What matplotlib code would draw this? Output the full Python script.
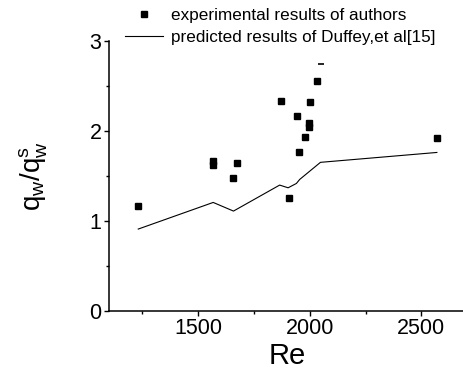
import matplotlib
matplotlib.use("Agg")
import matplotlib.pyplot as plt
from matplotlib.ticker import MultipleLocator

plt.rcParams['font.family'] = ['Liberation Sans', 'DejaVu Sans']
plt.rcParams['mathtext.fontset'] = 'custom'
plt.rcParams['mathtext.rm'] = 'Liberation Sans'
plt.rcParams['mathtext.it'] = 'Liberation Sans'

# experimental results of authors
exp_re = [1228, 1567, 1567, 1658, 1674, 1871, 1906, 1945, 1950, 1977, 1997, 1997, 2000, 2034, 2570]
exp_q = [1.167, 1.66, 1.62, 1.48, 1.64, 2.33, 1.256, 2.16, 1.76, 1.93, 2.09, 2.04, 2.32, 2.55, 1.92]

# small dash artefact near top
dash_re = [2052]
dash_q = [2.74]

# predicted results of Duffey et al
pred_re = [1231, 1567, 1658, 1865, 1903, 1940, 1955, 2048, 2570]
pred_q = [0.908, 1.204, 1.108, 1.397, 1.367, 1.415, 1.46, 1.65, 1.76]

xticks = [1500, 2000, 2500]
yticks = [0, 1, 2, 3]

fig = plt.figure(figsize=(4.64, 3.69), dpi=100)
ax = fig.add_axes([0.235, 0.158, 0.769, 0.731])

ax.plot(exp_re, exp_q, linestyle='none', marker='s', markersize=5,
        color='black', label='experimental results of authors')
ax.plot(pred_re, pred_q, color='black', linewidth=0.8,
        label='predicted results of Duffey,et al[15]')
ax.plot(dash_re, dash_q, linestyle='none', marker='_', markersize=4,
        markeredgewidth=1.2, color='black')

ax.set_xlim(1100, 2700)
ax.set_ylim(0, 3)
ax.set_xticks(xticks)
ax.set_yticks(yticks)
ax.xaxis.set_minor_locator(MultipleLocator(250))
ax.yaxis.set_minor_locator(MultipleLocator(0.5))

for s in ['top', 'right']:
    ax.spines[s].set_visible(False)
for s in ['left', 'bottom']:
    ax.spines[s].set_linewidth(1.1)

ax.tick_params(which='major', direction='out', length=3.5, width=1,
               labelsize=15.5, pad=2)
ax.tick_params(which='minor', direction='out', length=2.5, width=1)

ax.set_xlabel('Re', fontsize=21, labelpad=2)
ax.set_ylabel(r'$\mathregular{q_w/q^s_w}$', fontsize=20, labelpad=28)

leg = ax.legend(loc='upper left', bbox_to_anchor=(125 / 464, 1 - 8 / 369),
                bbox_transform=fig.transFigure, frameon=False, fontsize=12.3,
                handlelength=2.2, handletextpad=0.5, labelspacing=0.4,
                borderpad=0, borderaxespad=0, markerscale=0.8, numpoints=1)

fig.savefig('out.png', dpi=100)
